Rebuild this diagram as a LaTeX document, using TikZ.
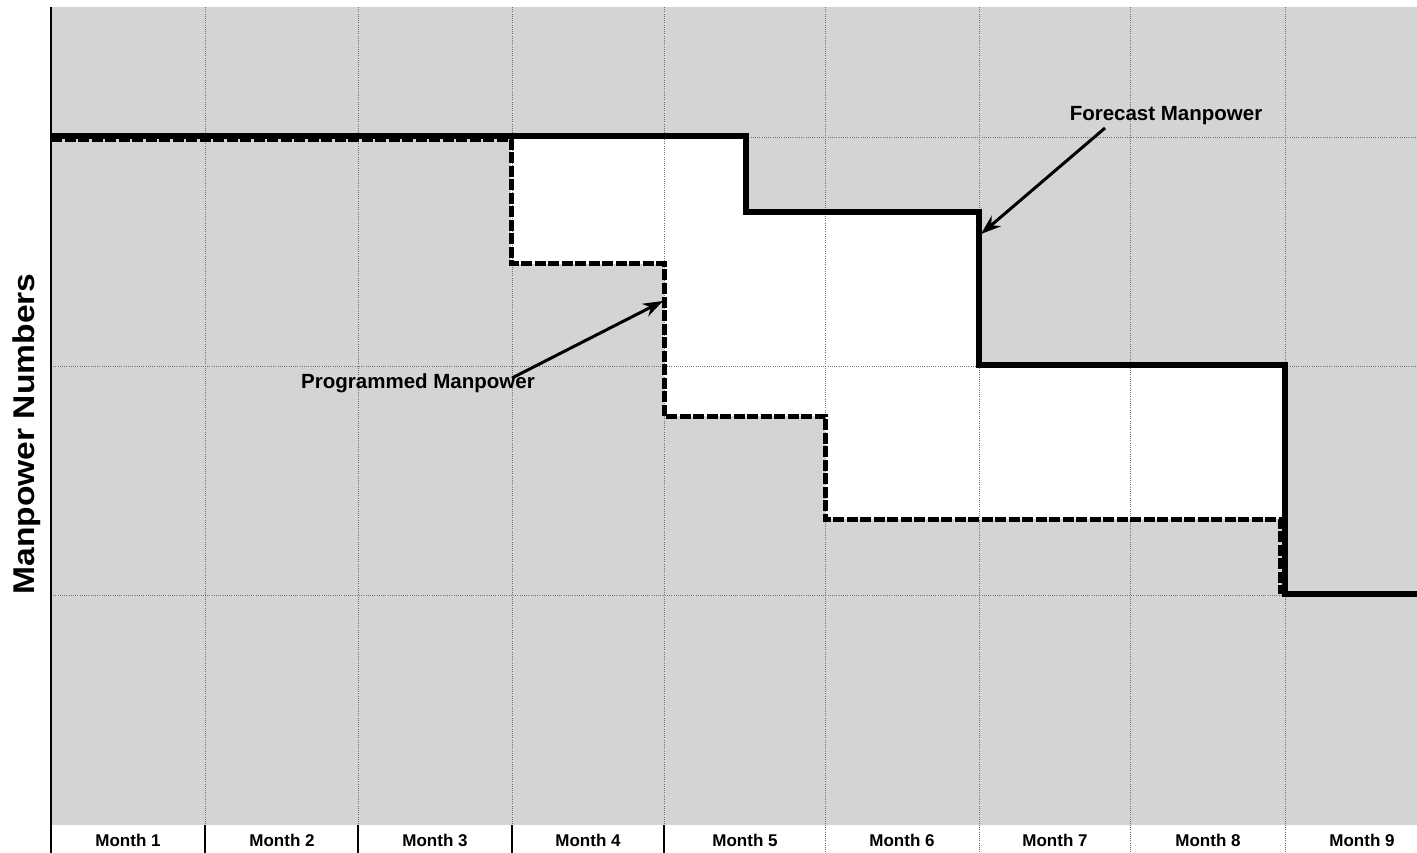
\documentclass[tikz,border=0pt]{standalone}
\usepackage{fontspec}
\setmainfont{Liberation Sans}
\usetikzlibrary{arrows.meta}
\begin{document}
\begin{tikzpicture}[x=1pt,y=-1pt,
  stip/.style={fill=black!17},
  gridln/.style={black!55, line width=0.8pt, dash pattern=on 1pt off 1.2pt},
  forecast/.style={line width=5.5pt, line join=miter},
  programmed/.style={line width=5pt, dash pattern=on 11pt off 2.5pt},
  callout/.style={line width=3pt, -{Stealth[length=20pt,width=14pt]}},
  mlabel/.style={inner sep=0pt, font=\fontsize{17}{17}\selectfont\bfseries},
  callabel/.style={inner sep=0pt, font=\fontsize{20.5}{20.5}\selectfont\bfseries},
  solidsep/.style={line width=2.4pt},
  dotsep/.style={black!60, line width=0.8pt, dash pattern=on 1pt off 1.2pt}]
\useasboundingbox (0,0) rectangle (1417,853);
\fill[white] (0,0) rectangle (1417,853);
% stippled plot area
\fill[stip] (51,7) rectangle (1417,825);
% white gap between programmed and forecast
\fill[white] (511,136) -- (746,136) -- (746,212) -- (979,212) -- (979,365) -- (1285,365)
  -- (1285,519) -- (825,519) -- (825,416) -- (664,416) -- (664,264) -- (511,264) -- cycle;
% grid
\foreach \gx in {205,358,512,664,825,979,1130,1285}
  \draw[gridln] (\gx,7) -- (\gx,825);
\foreach \gy in {137,366,595}
  \draw[gridln] (51,\gy) -- (1417,\gy);
% programmed manpower
\draw[programmed] (51,140) -- (511,140) -- (511,264) -- (664,264) -- (664,416) -- (825,416)
  -- (825,519) -- (1280,519) -- (1280,594);
% forecast manpower
\draw[forecast] (51,136) -- (746,136) -- (746,212) -- (979,212) -- (979,365) -- (1285,365)
  -- (1285,594) -- (1417,594);
% axis
\draw[line width=2.4pt] (51,7) -- (51,853);
% month band dividers
\foreach \gx in {205,358,512,664}
  \draw[solidsep] (\gx,825) -- (\gx,853);
\foreach \gx in {825,979,1130,1285}
  \draw[dotsep] (\gx,825) -- (\gx,853);
% month labels
\node[mlabel] (m1) at (128,840) {Month 1};
\node[mlabel] (m2) at (282,840) {Month 2};
\node[mlabel] (m3) at (435,840) {Month 3};
\node[mlabel] (m4) at (588,840) {Month 4};
\node[mlabel] (m5) at (745,840) {Month 5};
\node[mlabel] (m6) at (902,840) {Month 6};
\node[mlabel] (m7) at (1055,840) {Month 7};
\node[mlabel] (m8) at (1208,840) {Month 8};
\node[mlabel] (m9) at (1362,840) {Month 9};
% y label
\node[inner sep=0pt, rotate=90, font=\fontsize{30}{30}\selectfont\bfseries] (ylab) at (27,434)
  {\scalebox{1.12}[1]{Manpower Numbers}};
% callouts
\node[callabel] (fclab) at (1166,116) {Forecast Manpower};
\node[callabel] (pglab) at (418,383) {Programmed Manpower};
\coordinate (fctail) at (1105,128);
\coordinate (fctip) at (981,234);
\coordinate (pgtail) at (512,378);
\coordinate (pgtip) at (663,301);
\draw[callout] (fctail) -- (fctip);
\draw[callout] (pgtail) -- (pgtip);
\end{tikzpicture}
\end{document}
